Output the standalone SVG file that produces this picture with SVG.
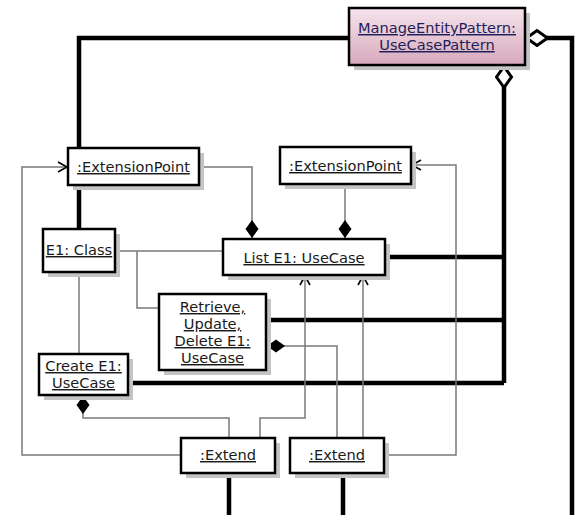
<svg xmlns="http://www.w3.org/2000/svg" width="577" height="515" viewBox="0 0 577 515">
<style>
.box{fill:#fff;stroke:#000;stroke-width:2.5}
.shadow{fill:#c4c4c4}
.t{font-family:"DejaVu Sans",Verdana,sans-serif;font-size:14.6px;fill:#1a1a1a;text-anchor:middle;text-decoration:underline}
.tp{fill:#1e1e5a}
.thick{fill:none;stroke:#000;stroke-width:4.5}
.thin{fill:none;stroke:#7a7a7a;stroke-width:1.5}
</style>
<defs>
<linearGradient id="pink" x1="0" y1="0" x2="0" y2="1">
<stop offset="0" stop-color="#f6e4ec"/>
<stop offset="1" stop-color="#d7a9bc"/>
</linearGradient>
<marker id="dia" markerUnits="userSpaceOnUse" markerWidth="20" markerHeight="16" refX="18" refY="7" orient="auto">
<path d="M0,7 L9,0.5 L18,7 L9,13.5 Z" fill="#000"/>
</marker>
<marker id="hdia" markerUnits="userSpaceOnUse" markerWidth="26" markerHeight="20" refX="23" refY="9" orient="auto">
<path d="M1.5,9 L12,1.5 L22.5,9 L12,16.5 Z" fill="#fff" stroke="#000" stroke-width="3"/>
</marker>
<marker id="arr" markerUnits="userSpaceOnUse" markerWidth="12" markerHeight="14" refX="10" refY="6" orient="auto">
<path d="M1,1 L10,6 L1,11" fill="none" stroke="#000" stroke-width="1.6"/>
</marker>
</defs>

<g id="connectors">
<path class="thick" d="M349,38 H79 V148"/>
<path class="thick" d="M79,185 V229"/>
<path class="thick" d="M572,515 V38 H526" marker-end="url(#hdia)"/>
<path class="thick" d="M504,383 V66" marker-end="url(#hdia)"/>
<path class="thick" d="M385,257 H504"/>
<path class="thick" d="M266,320 H504"/>
<path class="thick" d="M128,383 H504"/>
<path class="thick" d="M229,473 V515"/>
<path class="thick" d="M343,473 V515"/>

<path class="thin" d="M199,167 H252 V238" marker-end="url(#dia)"/>
<path class="thin" d="M345,184 V238" marker-end="url(#dia)"/>
<path class="thin" d="M115,251 H223"/>
<path class="thin" d="M137,251 V308 H159"/>
<path class="thin" d="M79,272 V354"/>
<path class="thin" d="M229,438 V418 H83 V396" marker-end="url(#dia)"/>
<path class="thin" d="M337,438 V346 H267" marker-end="url(#dia)"/>
<path class="thin" d="M260,438 V418 H305 V276" marker-end="url(#arr)"/>
<path class="thin" d="M363,438 V276" marker-end="url(#arr)"/>
<path class="thin" d="M181,455 H22 V167 H67" marker-end="url(#arr)"/>
<path class="thin" d="M384,455 H456 V165 H412" marker-end="url(#arr)"/>
</g>

<g id="manage">
<rect class="shadow" x="354" y="13" width="176" height="57"/>
<rect class="box" x="349" y="8" width="176" height="57" style="fill:url(#pink)"/>
<text class="t tp" x="437" y="33">ManageEntityPattern:</text>
<text class="t tp" x="437" y="50">UseCasePattern</text>
</g>

<g id="ep1">
<rect class="shadow" x="73" y="153" width="131" height="37"/>
<rect class="box" x="68" y="148" width="131" height="37"/>
<text class="t" x="133.5" y="172">:ExtensionPoint</text>
</g>

<g id="ep2">
<rect class="shadow" x="285" y="152" width="131" height="37"/>
<rect class="box" x="280" y="147" width="131" height="37"/>
<text class="t" x="345.5" y="171">:ExtensionPoint</text>
</g>

<g id="e1class">
<rect class="shadow" x="48" y="234" width="72" height="43"/>
<rect class="box" x="43" y="229" width="72" height="43"/>
<text class="t" x="79" y="255">E1: Class</text>
</g>

<g id="list">
<rect class="shadow" x="228" y="244" width="162" height="36"/>
<rect class="box" x="223" y="239" width="162" height="36"/>
<text class="t" x="304" y="263">List E1: UseCase</text>
</g>

<g id="retrieve">
<rect class="shadow" x="164" y="299" width="107" height="76"/>
<rect class="box" x="159" y="294" width="107" height="76"/>
<text class="t" x="212.5" y="312">Retrieve,</text>
<text class="t" x="212.5" y="329">Update,</text>
<text class="t" x="212.5" y="346">Delete E1:</text>
<text class="t" x="212.5" y="363">UseCase</text>
</g>

<g id="create">
<rect class="shadow" x="44" y="359" width="89" height="41"/>
<rect class="box" x="39" y="354" width="89" height="41"/>
<text class="t" x="83.5" y="371">Create E1:</text>
<text class="t" x="83.5" y="388">UseCase</text>
</g>

<g id="extend1">
<rect class="shadow" x="186" y="443" width="94" height="35"/>
<rect class="box" x="181" y="438" width="94" height="35"/>
<text class="t" x="228" y="460">:Extend</text>
</g>

<g id="extend2">
<rect class="shadow" x="295" y="443" width="94" height="35"/>
<rect class="box" x="290" y="438" width="94" height="35"/>
<text class="t" x="337" y="460">:Extend</text>
</g>
</svg>
